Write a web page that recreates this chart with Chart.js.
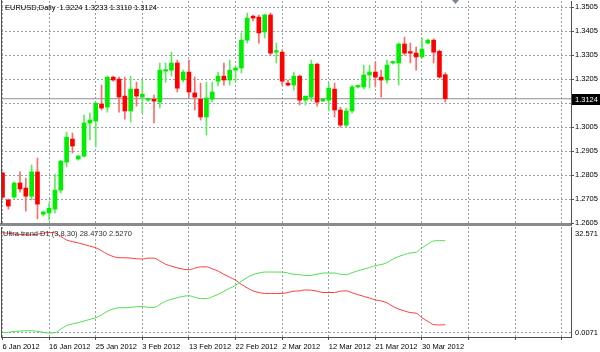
<!DOCTYPE html>
<html>
<head>
<meta charset="utf-8">
<script src="https://cdn.jsdelivr.net/npm/chart.js@4.4.0/dist/chart.umd.min.js"></script>
<style>
  html, body { margin: 0; padding: 0; background: #fff; }
  #wrap { position: relative; width: 600px; height: 352px; overflow: hidden; }
  #price { position: absolute; left: 0; top: 0; }
  #ind { position: absolute; left: 0; top: 226px; }
</style>
</head>
<body>
<div id="wrap">
  <canvas id="price" width="600" height="226"></canvas>
  <canvas id="ind" width="600" height="126"></canvas>
</div>
<script>
// EURUSD daily bars (bar 0 = 6 Jan 2012, last = 4 Apr 2012)
const opens = [
  1.2815, 1.2702, 1.2714, 1.2773, 1.2752, 1.2718, 1.2819, 1.2643, 1.2648, 1.2664,
  1.2743, 1.2860, 1.2956, 1.2873, 1.2885, 1.3023, 1.3031, 1.3102, 1.3089, 1.3214,
  1.3206, 1.3135, 1.3073, 1.3164, 1.3131, 1.3118, 1.3122, 1.3110, 1.3239, 1.3243,
  1.3273, 1.3202, 1.3235, 1.3148, 1.3122, 1.3048, 1.3122, 1.3197, 1.3218, 1.3202,
  1.3243, 1.3252, 1.3368, 1.3468, 1.3464, 1.3402, 1.3473, 1.3318, 1.3318, 1.3189,
  1.3181, 1.3218, 1.3118, 1.3131, 1.3268, 1.3114, 1.3118, 1.3164, 1.3077, 1.3014,
  1.3073, 1.3173, 1.3173, 1.3223, 1.3235, 1.3214, 1.3202, 1.3273, 1.3273, 1.3352,
  1.3318, 1.3314, 1.3298, 1.3356, 1.3368, 1.3322, 1.3224
];
const highs = [
  1.2819, 1.2706, 1.2777, 1.2819, 1.2793, 1.2848, 1.2877, 1.2656, 1.2689, 1.2810,
  1.2868, 1.2985, 1.2981, 1.2889, 1.3056, 1.3064, 1.3106, 1.3181, 1.3218, 1.3218,
  1.3214, 1.3214, 1.3218, 1.3193, 1.3202, 1.3127, 1.3139, 1.3273, 1.3273, 1.3318,
  1.3285, 1.3243, 1.3285, 1.3214, 1.3189, 1.3193, 1.3193, 1.3235, 1.3273, 1.3285,
  1.3260, 1.3398, 1.3481, 1.3473, 1.3473, 1.3477, 1.3481, 1.3356, 1.3327, 1.3202,
  1.3235, 1.3223, 1.3135, 1.3285, 1.3273, 1.3122, 1.3189, 1.3189, 1.3089, 1.3085,
  1.3181, 1.3181, 1.3264, 1.3264, 1.3277, 1.3243, 1.3285, 1.3281, 1.3356, 1.3381,
  1.3356, 1.3339, 1.3377, 1.3373, 1.3373, 1.3327, 1.3233
];
const lows = [
  1.2706, 1.2664, 1.2710, 1.2735, 1.2656, 1.2702, 1.2623, 1.2635, 1.2618, 1.2648,
  1.2731, 1.2839, 1.2898, 1.2868, 1.2881, 1.2952, 1.2923, 1.3077, 1.3068, 1.3197,
  1.3068, 1.3039, 1.3027, 1.3093, 1.3064, 1.3114, 1.3023, 1.3085, 1.3193, 1.3218,
  1.3152, 1.3193, 1.3131, 1.3077, 1.3035, 1.2973, 1.3110, 1.3177, 1.3181, 1.3181,
  1.3193, 1.3231, 1.3356, 1.3448, 1.3356, 1.3377, 1.3306, 1.3273, 1.3181, 1.3177,
  1.3160, 1.3098, 1.3098, 1.3114, 1.3093, 1.3114, 1.3073, 1.3048, 1.3006, 1.3006,
  1.3064, 1.3168, 1.3164, 1.3168, 1.3173, 1.3131, 1.3189, 1.3268, 1.3181, 1.3306,
  1.3273, 1.3243, 1.3293, 1.3352, 1.3273, 1.3210, 1.3110
];
const closes = [
  1.2714, 1.2677, 1.2773, 1.2748, 1.2718, 1.2819, 1.2685, 1.2652, 1.2668, 1.2743,
  1.2864, 1.2964, 1.2927, 1.2885, 1.3023, 1.3035, 1.3106, 1.3085, 1.3214, 1.3202,
  1.3131, 1.3073, 1.3164, 1.3135, 1.3143, 1.3122, 1.3114, 1.3243, 1.3243, 1.3273,
  1.3168, 1.3235, 1.3152, 1.3131, 1.3048, 1.3127, 1.3152, 1.3218, 1.3202, 1.3243,
  1.3252, 1.3368, 1.3460, 1.3460, 1.3398, 1.3473, 1.3314, 1.3322, 1.3197, 1.3181,
  1.3218, 1.3118, 1.3135, 1.3268, 1.3110, 1.3122, 1.3168, 1.3077, 1.3014, 1.3073,
  1.3173, 1.3177, 1.3223, 1.3235, 1.3214, 1.3202, 1.3264, 1.3277, 1.3352, 1.3314,
  1.3314, 1.3298, 1.3331, 1.3368, 1.3318, 1.3214, 1.3124
];

// Ultra trend D1 (3,8,30): bull (green) and bear (red) lines
const bullLine = [
  0.1, 0.2, 0.5, 0.6, 0.7, 0.7, 0.5, 0.2, 0.0, 0.1,
  1.2, 2.3, 2.8, 3.2, 3.7, 4.2, 4.7, 5.6, 6.7, 7.4,
  7.8, 7.8, 7.9, 8.1, 8.2, 7.9, 7.9, 8.8, 9.8, 10.4,
  10.9, 11.3, 11.5, 11.0, 10.6, 10.6, 11.2, 11.9, 12.9, 13.8,
  14.7, 16.0, 17.1, 18.0, 18.5, 18.8, 18.8, 18.8, 18.8, 18.5,
  18.1, 18.0, 17.7, 17.8, 18.1, 18.5, 18.5, 18.5, 18.1, 18.0,
  18.6, 19.2, 19.7, 20.2, 20.8, 21.1, 21.7, 22.8, 23.6, 24.2,
  24.7, 24.9, 26.3, 27.4, 28.4, 28.5, 28.473
];
const bearLine = [
  30.9, 30.8, 30.5, 30.4, 30.3, 30.3, 30.5, 30.8, 31.0, 30.9,
  29.8, 28.7, 28.2, 27.8, 27.3, 26.8, 26.3, 25.4, 24.3, 23.6,
  23.2, 23.2, 23.1, 22.9, 22.8, 23.1, 23.1, 22.2, 21.2, 20.6,
  20.1, 19.7, 19.5, 20.0, 20.4, 20.4, 19.8, 19.1, 18.1, 17.2,
  16.3, 15.0, 13.9, 13.0, 12.5, 12.2, 12.2, 12.2, 12.2, 12.5,
  12.9, 13.0, 13.3, 13.2, 12.9, 12.5, 12.5, 12.5, 12.9, 13.0,
  12.4, 11.8, 11.3, 10.8, 10.2, 9.9, 9.3, 8.2, 7.4, 6.8,
  6.3, 6.1, 4.7, 3.6, 2.6, 2.5, 2.527
];

// axis ticks
const dateTickBars = [0, 8, 16, 24, 32, 40, 48, 56, 64, 72, 80, 88, 96];
const dateLabels = ['6 Jan 2012', '16 Jan 2012', '25 Jan 2012', '3 Feb 2012', '13 Feb 2012',
  '22 Feb 2012', '2 Mar 2012', '12 Mar 2012', '21 Mar 2012', '30 Mar 2012'];
const priceTicks = [1.2605, 1.2705, 1.2805, 1.2905, 1.3005, 1.3105, 1.3205, 1.3305, 1.3405, 1.3505];
const indTickLabels = ['0.0071', '32.571'];

const FONT = 'Liberation Sans';
const GRID = '#96a0ab';
const AXIS = '#505050';
const UP = '#00ee00', DOWN = '#ff0000';
const UP_WICK = '#5cec5c', DOWN_WICK = '#ff6a6a';
const X_MIN = -0.26, X_MAX = 97.58;

const last = closes.length - 1;
const bars = opens.map((o, i) => i);
const isUp = i => closes[i] >= opens[i];

Chart.defaults.font.family = FONT;
Chart.defaults.font.size = 7.5;
Chart.defaults.color = '#000';

// keep the plot area fixed: no padding for edge labels
function noPad(s) {
  s.paddingTop = 0; s.paddingBottom = 0; s.paddingLeft = 0; s.paddingRight = 0;
}

const priceDecor = {
  id: 'priceDecor',
  afterDraw(chart) {
    const { ctx, chartArea, scales } = chart;
    ctx.save();
    // left frame line
    ctx.strokeStyle = AXIS;
    ctx.lineWidth = 1;
    ctx.beginPath();
    ctx.moveTo(chartArea.left + 0.5, 0);
    ctx.lineTo(chartArea.left + 0.5, chartArea.bottom);
    ctx.stroke();
    // title
    ctx.font = '7.5px "' + FONT + '"';
    ctx.fillStyle = '#000';
    ctx.textBaseline = 'middle';
    ctx.fillText('EURUSD,Daily  ' + [opens[last], highs[last], lows[last], closes[last]].map(v => v.toFixed(4)).join(' '), 5, 8);
    // last price box on the axis
    const py = scales.y.getPixelForValue(closes[last]);
    ctx.fillStyle = '#000';
    ctx.fillRect(chartArea.right + 1, Math.round(py) - 5, 28, 11);
    ctx.fillStyle = '#fff';
    ctx.fillText(closes[last].toFixed(4), chartArea.right + 4, Math.round(py) + 0.5);
    // chart shift marker
    ctx.fillStyle = '#7b8794';
    ctx.beginPath();
    ctx.moveTo(452, 0);
    ctx.lineTo(459, 0);
    ctx.lineTo(455.5, 4);
    ctx.closePath();
    ctx.fill();
    ctx.restore();
  }
};

new Chart(document.getElementById('price'), {
  type: 'bar',
  data: {
    datasets: [
      {
        label: 'body',
        data: bars.map(i => ({ x: i, y: [opens[i], closes[i]] })),
        backgroundColor: bars.map(i => isUp(i) ? UP : DOWN),
        barThickness: 4,
        minBarLength: 1.5,
        grouped: false
      },
      {
        label: 'wick',
        data: bars.map(i => ({ x: i, y: [lows[i], highs[i]] })),
        backgroundColor: bars.map(i => isUp(i) ? UP_WICK : DOWN_WICK),
        barThickness: 1,
        grouped: false
      },
      {
        type: 'line',
        label: 'bid',
        data: [{ x: X_MIN, y: closes[last] }, { x: X_MAX, y: closes[last] }],
        borderColor: '#8e8e8e',
        borderWidth: 1,
        pointRadius: 0
      }
    ]
  },
  options: {
    responsive: false,
    animation: false,
    events: [],
    layout: { padding: { left: 1, right: 0, top: 1, bottom: 2 } },
    plugins: { legend: { display: false }, tooltip: { enabled: false } },
    scales: {
      x: {
        type: 'linear',
        min: X_MIN,
        max: X_MAX,
        offset: false,
        afterBuildTicks: s => { s.ticks = dateTickBars.map(v => ({ value: v })); },
        afterFit: s => { s.height = 0; noPad(s); },
        ticks: { display: false },
        grid: { offset: false, color: GRID, drawTicks: false },
        border: { display: true, color: '#8a8a8a', width: 3, dash: [2, 2] }
      },
      y: {
        position: 'right',
        min: 1.26021,
        max: 1.35312,
        afterBuildTicks: s => { s.ticks = priceTicks.map(v => ({ value: v })); },
        afterFit: s => { s.width = 29; noPad(s); },
        ticks: { callback: v => v.toFixed(4), padding: 1, color: '#000' },
        grid: { color: GRID, tickLength: 3, tickColor: AXIS, tickBorderDash: [] },
        border: { display: true, color: AXIS, width: 1, dash: [2, 2] }
      }
    }
  },
  plugins: [priceDecor]
});

const indDecor = {
  id: 'indDecor',
  afterDraw(chart) {
    const { ctx, chartArea } = chart;
    ctx.save();
    ctx.strokeStyle = AXIS;
    ctx.lineWidth = 1;
    ctx.beginPath();
    ctx.moveTo(chartArea.left + 0.5, chartArea.top);
    ctx.lineTo(chartArea.left + 0.5, chartArea.bottom);
    ctx.stroke();
    ctx.font = '7.5px "' + FONT + '"';
    ctx.fillStyle = '#303030';
    ctx.textBaseline = 'middle';
    ctx.fillText('Ultra trend D1 (3,8,30) ' + bullLine[last].toFixed(4) + ' ' + bearLine[last].toFixed(4), 3, 8);
    ctx.restore();
  }
};

new Chart(document.getElementById('ind'), {
  type: 'line',
  data: {
    datasets: [
      {
        label: 'bull',
        data: bars.map(i => ({ x: i, y: bullLine[i] })),
        borderColor: '#4fe04f',
        borderWidth: 1,
        pointRadius: 0,
        cubicInterpolationMode: 'monotone'
      },
      {
        label: 'bear',
        data: bars.map(i => ({ x: i, y: bearLine[i] })),
        borderColor: '#ff3b3b',
        borderWidth: 1,
        pointRadius: 0,
        cubicInterpolationMode: 'monotone'
      }
    ]
  },
  options: {
    responsive: false,
    animation: false,
    events: [],
    layout: { padding: { left: 1, right: 0, top: 1, bottom: 0 } },
    plugins: { legend: { display: false }, tooltip: { enabled: false } },
    scales: {
      x: {
        type: 'linear',
        min: X_MIN,
        max: X_MAX,
        afterBuildTicks: s => { s.ticks = dateTickBars.map(v => ({ value: v })); },
        afterFit: s => { s.height = 15; noPad(s); },
        ticks: {
          autoSkip: false,
          maxRotation: 0,
          align: 'start',
          padding: 2,
          labelOffset: 0,
          color: '#000',
          callback: (v, idx) => dateLabels[idx] || ''
        },
        grid: { color: GRID, tickLength: 3, tickColor: AXIS, tickBorderDash: [] },
        border: { display: true, color: AXIS, width: 1, dash: [2, 2] }
      },
      y: {
        position: 'right',
        min: -1.234,
        max: 32.70,
        afterBuildTicks: s => { s.ticks = [{ value: 0 }, { value: 30.5 }]; },
        afterFit: s => { s.width = 29; noPad(s); },
        ticks: { padding: 4, color: '#000', callback: (v, idx) => indTickLabels[idx] },
        grid: { drawTicks: false, color: c => (c.tick && c.tick.value === 0) ? GRID : 'rgba(0,0,0,0)' },
        border: { display: true, color: AXIS, width: 1, dash: [2, 2] }
      }
    }
  },
  plugins: [indDecor]
});
</script>
</body>
</html>
